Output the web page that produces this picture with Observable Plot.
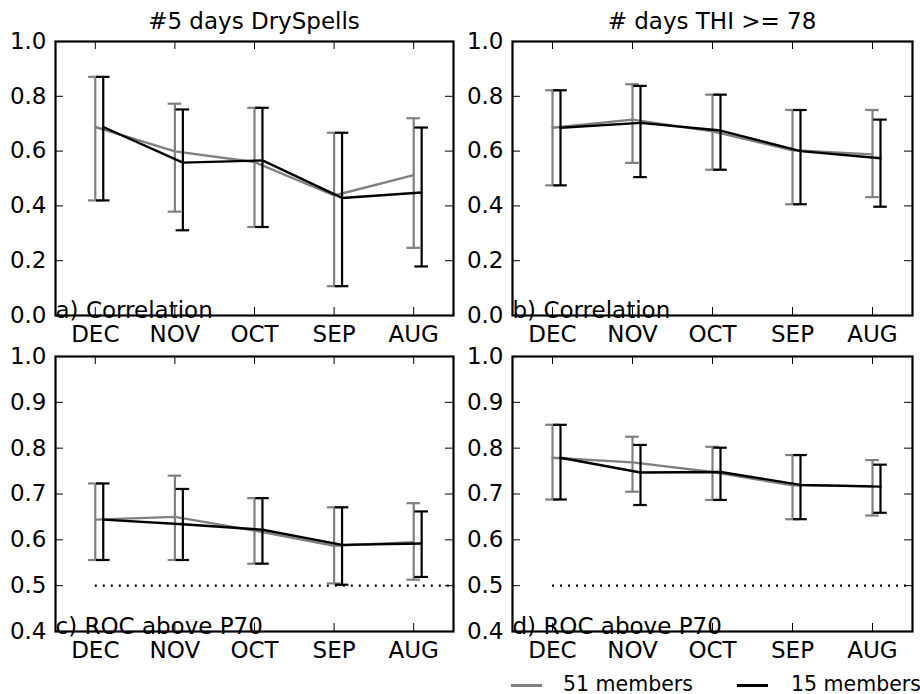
<!DOCTYPE html>
<html><head><meta charset="utf-8">
<script src="https://cdn.jsdelivr.net/npm/d3@7"></script>
<script src="https://cdn.jsdelivr.net/npm/@observablehq/plot@0.6"></script>
<style>
body{margin:0;background:#fff;font-family:"DejaVu Sans",sans-serif;}
#root{position:relative;width:920px;height:694px;overflow:hidden;background:#fff;}
.panel{position:absolute;}
.title{position:absolute;font-size:23px;line-height:23px;text-align:center;white-space:nowrap;color:#000;}
.leg{position:absolute;font-size:20.5px;line-height:20.5px;white-space:nowrap;color:#000;}
.legline{position:absolute;height:2.5px;}
</style></head><body><div id="root"></div>
<script>
const months = ["DEC","NOV","OCT","SEP","AUG"];
const seriesNames = ["51 members","15 members"];
const seriesColors = ["#808080","#000000"];
const titles = ["#5 days DrySpells","# days THI >= 78"];
const panelLabels = ["a) Correlation","b) Correlation","c) ROC above P70","d) ROC above P70"];
const corrTicks = [0,0.2,0.4,0.6,0.8,1.0];
const rocTicks = [0.4,0.5,0.6,0.7,0.8,0.9,1.0];
const rocReference = 0.5;

// a) DrySpells correlation
const aMean51 = [0.688,0.599,0.560,0.438,0.512];
const aLow51  = [0.420,0.379,0.323,0.107,0.247];
const aHigh51 = [0.871,0.773,0.758,0.667,0.720];
const aMean15 = [0.688,0.558,0.566,0.429,0.449];
const aLow15  = [0.420,0.311,0.323,0.107,0.179];
const aHigh15 = [0.871,0.752,0.758,0.667,0.686];
// b) THI correlation
const bMean51 = [0.685,0.715,0.672,0.603,0.588];
const bLow51  = [0.475,0.557,0.532,0.406,0.432];
const bHigh51 = [0.822,0.844,0.806,0.750,0.750];
const bMean15 = [0.685,0.703,0.675,0.600,0.574];
const bLow15  = [0.475,0.505,0.532,0.406,0.397];
const bHigh15 = [0.822,0.838,0.806,0.750,0.715];
// c) DrySpells ROC
const cMean51 = [0.644,0.650,0.620,0.587,0.595];
const cLow51  = [0.556,0.556,0.548,0.505,0.513];
const cHigh51 = [0.723,0.740,0.691,0.671,0.680];
const cMean15 = [0.644,0.634,0.622,0.589,0.592];
const cLow15  = [0.556,0.556,0.548,0.502,0.519];
const cHigh15 = [0.723,0.711,0.691,0.671,0.662];
// d) THI ROC
const dMean51 = [0.779,0.769,0.748,0.719,0.717];
const dLow51  = [0.688,0.705,0.687,0.645,0.653];
const dHigh51 = [0.851,0.825,0.803,0.785,0.774];
const dMean15 = [0.779,0.747,0.748,0.720,0.716];
const dLow15  = [0.688,0.676,0.687,0.645,0.659];
const dHigh15 = [0.851,0.807,0.801,0.785,0.764];

const seriesOffset = [0, 0.1];
const capHalf = 0.085;

function rows(mean, lo, hi, s) {
  return months.map((m, i) => ({x: i + 1 + seriesOffset[s], mean: mean[i], lo: lo[i], hi: hi[i], series: seriesNames[s]}));
}

function panel(cfg) {
  const {width, height, ml, mr, mt, mb, yDomain, yTicks, label, series, ref} = cfg;
  const W = width - ml - mr, H = height - mt - mb;
  const marks = [];
  if (ref != null) {
    marks.push(Plot.ruleY([ref], {x1: 1, x2: 5.5, stroke: "black", strokeWidth: 2.2, strokeDasharray: "2,6"}));
  }
  series.forEach((data, s) => {
    const c = seriesColors[s];
    marks.push(Plot.ruleX(data, {x: "x", y1: "lo", y2: "hi", stroke: c, strokeWidth: 2.2}));
    marks.push(Plot.ruleY(data, {y: "lo", x1: d => d.x - capHalf, x2: d => d.x + capHalf, stroke: c, strokeWidth: 2.2}));
    marks.push(Plot.ruleY(data, {y: "hi", x1: d => d.x - capHalf, x2: d => d.x + capHalf, stroke: c, strokeWidth: 2.2}));
    marks.push(Plot.line(data, {x: "x", y: "mean", stroke: c, strokeWidth: 2.4}));
  });
  const xt = [1,2,3,4,5];
  marks.push(
    Plot.tickY(yTicks, {y: d => d, insetRight: W - 8, stroke: "black", strokeWidth: 1}),
    Plot.tickY(yTicks, {y: d => d, insetLeft: W - 8, stroke: "black", strokeWidth: 1}),
    Plot.tickX(xt, {x: d => d, insetBottom: H - 8, stroke: "black", strokeWidth: 1}),
    Plot.tickX(xt, {x: d => d, insetTop: H - 8, stroke: "black", strokeWidth: 1}),
    Plot.axisY({ticks: yTicks, tickFormat: d3.format(".1f"), tickSize: 0, tickPadding: 9, fill: "black", label: null}),
    Plot.axisX({ticks: xt, tickFormat: d => months[d - 1], tickSize: 0, tickPadding: 10, fill: "black", label: null}),
    Plot.text([label], {frameAnchor: "bottom-left", text: d => d, textAnchor: "start", lineAnchor: "bottom", dy: 2, fill: "black"}),
    Plot.frame({stroke: "black", strokeWidth: 2.2})
  );
  return Plot.plot({
    width, height, marginLeft: ml, marginRight: mr, marginTop: mt, marginBottom: mb,
    style: {fontFamily: "DejaVu Sans", fontSize: "23px", background: "white", color: "black", overflow: "visible"},
    x: {type: "linear", domain: [0.5, 5.5], label: null},
    y: {domain: yDomain, label: null},
    marks
  });
}

const root = document.getElementById("root");
function place(el, left, top) {
  const d = document.createElement("div");
  d.className = "panel"; d.style.left = left + "px"; d.style.top = top + "px";
  d.appendChild(el); root.appendChild(d);
}

place(panel({width: 460, height: 345, ml: 55, mr: 7, mt: 41, mb: 30, yDomain: [0, 1], yTicks: corrTicks, label: panelLabels[0],
  series: [rows(aMean51, aLow51, aHigh51, 0), rows(aMean15, aLow15, aHigh15, 1)]}), 0, 0);
place(panel({width: 460, height: 345, ml: 52, mr: 8, mt: 41, mb: 30, yDomain: [0, 1], yTicks: corrTicks, label: panelLabels[1],
  series: [rows(bMean51, bLow51, bHigh51, 0), rows(bMean15, bLow15, bHigh15, 1)]}), 460, 0);
place(panel({width: 460, height: 316, ml: 55, mr: 7, mt: 11, mb: 30, yDomain: [0.4, 1], yTicks: rocTicks, label: panelLabels[2], ref: rocReference,
  series: [rows(cMean51, cLow51, cHigh51, 0), rows(cMean15, cLow15, cHigh15, 1)]}), 0, 345);
place(panel({width: 460, height: 316, ml: 52, mr: 8, mt: 11, mb: 30, yDomain: [0.4, 1], yTicks: rocTicks, label: panelLabels[3], ref: rocReference,
  series: [rows(dMean51, dLow51, dHigh51, 0), rows(dMean15, dLow15, dHigh15, 1)]}), 460, 345);

function addTitle(text, left, width) {
  const t = document.createElement("div");
  t.className = "title"; t.textContent = text;
  t.style.left = left + "px"; t.style.width = width + "px"; t.style.top = "9.5px";
  root.appendChild(t);
}
addTitle(titles[0], 55, 398);
addTitle(titles[1], 512, 400);

function addLegend(name, color, lineLeft, textLeft) {
  const l = document.createElement("div");
  l.className = "legline"; l.style.left = lineLeft + "px"; l.style.top = "684px"; l.style.width = "31px"; l.style.background = color;
  root.appendChild(l);
  const t = document.createElement("div");
  t.className = "leg"; t.textContent = name; t.style.left = textLeft + "px"; t.style.top = "673.5px";
  root.appendChild(t);
}
addLegend(seriesNames[0], seriesColors[0], 511, 563);
addLegend(seriesNames[1], seriesColors[1], 737, 791);
</script></body></html>
